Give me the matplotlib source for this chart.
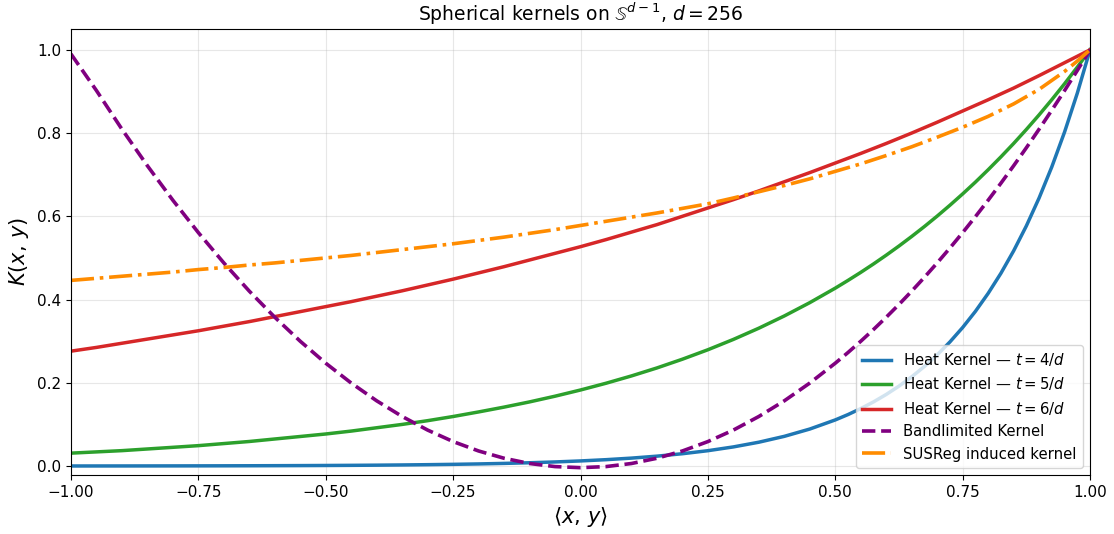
import numpy as np
import matplotlib
matplotlib.use("Agg")
import matplotlib.pyplot as plt

# <x, y> sample points: step 0.05 up to 0.45, then 0.025 where the curves bend hard
x = np.round(np.concatenate([np.arange(-1.0, 0.49, 0.05), np.arange(0.5, 1.0001, 0.025)]), 3)

heat_t4 = [0.00015, 0.00019, 0.00023, 0.00029, 0.00036, 0.00045, 0.00056, 0.00070, 0.00088, 0.00109,
           0.00136, 0.00170, 0.00211, 0.00263, 0.00328, 0.00409, 0.00509, 0.00635, 0.00791, 0.00985,
           0.01228, 0.01530, 0.01906, 0.02375, 0.02960, 0.03688, 0.04596, 0.05727, 0.07136, 0.08892,
           0.1108, 0.1237, 0.1381, 0.1541, 0.1720, 0.1920, 0.2144, 0.2393, 0.2671, 0.2982,
           0.3329, 0.3716, 0.4148, 0.4630, 0.5169, 0.5769, 0.6440, 0.7189, 0.8025, 0.8958, 1.0]

heat_t5 = [0.031, 0.034, 0.037, 0.041, 0.045, 0.049, 0.054, 0.059, 0.065, 0.071,
           0.077, 0.084, 0.092, 0.100, 0.109, 0.119, 0.130, 0.1416, 0.1541, 0.1678,
           0.1827, 0.1989, 0.2165, 0.2357, 0.2567, 0.2794, 0.3042, 0.3312, 0.3606, 0.3926,
           0.4274, 0.4460, 0.4653, 0.4855, 0.5066, 0.5286, 0.5516, 0.5755, 0.6005, 0.6266,
           0.6538, 0.6821, 0.7118, 0.7427, 0.7749, 0.8086, 0.8437, 0.8803, 0.9185, 0.9584, 1.0]

heat_t6 = [0.276, 0.285, 0.295, 0.305, 0.315, 0.325, 0.336, 0.347, 0.359, 0.371,
           0.383, 0.395, 0.408, 0.421, 0.435, 0.449, 0.464, 0.479, 0.495, 0.511,
           0.527, 0.544, 0.562, 0.580, 0.600, 0.620, 0.640, 0.661, 0.683, 0.705,
           0.728, 0.7395, 0.751, 0.763, 0.775, 0.7875, 0.800, 0.813, 0.826, 0.8395,
           0.853, 0.8665, 0.880, 0.894, 0.908, 0.923, 0.938, 0.9535, 0.969, 0.9845, 1.0]

bandlimited = [0.99, 0.9021, 0.8093, 0.7214, 0.6386, 0.5608, 0.4880, 0.4202, 0.3575, 0.2998,
               0.2471, 0.1994, 0.1567, 0.1191, 0.0864, 0.0588, 0.0362, 0.0187, 0.0061, -0.0013,
               -0.0039, -0.0013, 0.0061, 0.0187, 0.0362, 0.0588, 0.0864, 0.1191, 0.1567, 0.1994,
               0.2471, 0.2728, 0.2998, 0.3280, 0.3575, 0.3882, 0.4202, 0.4535, 0.4880, 0.5238,
               0.5608, 0.5991, 0.6386, 0.6794, 0.7214, 0.7647, 0.8093, 0.8550, 0.9021, 0.9504, 1.0]

susreg = [0.446, 0.451, 0.456, 0.461, 0.466, 0.472, 0.477, 0.483, 0.488, 0.494,
          0.500, 0.506, 0.513, 0.520, 0.527, 0.534, 0.542, 0.550, 0.559, 0.568,
          0.578, 0.588, 0.598, 0.608, 0.619, 0.630, 0.644, 0.659, 0.674, 0.690,
          0.708, 0.717, 0.726, 0.736, 0.746, 0.7565, 0.767, 0.7785, 0.790, 0.802,
          0.814, 0.827, 0.840, 0.855, 0.870, 0.8875, 0.905, 0.9265, 0.948, 0.973, 1.0]

fig = plt.figure(figsize=(11.14, 5.34), dpi=100)
ax = fig.add_axes([0.0637, 0.1105, 0.9148, 0.8352])

ax.plot(x, heat_t4, '-', color='tab:blue', lw=2.5, label=r'Heat Kernel — $t=4/d$')
ax.plot(x, heat_t5, '-', color='tab:green', lw=2.5, label=r'Heat Kernel — $t=5/d$')
ax.plot(x, heat_t6, '-', color='tab:red', lw=2.5, label=r'Heat Kernel — $t=6/d$')
ax.plot(x, bandlimited, '--', color='purple', lw=2.6, label='Bandlimited Kernel')
ax.plot(x, susreg, '-.', color='darkorange', lw=2.6, label='SUSReg induced kernel')

ax.set_xlim(-1, 1)
ax.set_ylim(-0.0215, 1.05)
ax.set_xticks([-1.0, -0.75, -0.5, -0.25, 0.0, 0.25, 0.5, 0.75, 1.0])
ax.set_yticks([0.0, 0.2, 0.4, 0.6, 0.8, 1.0])
ax.grid(True, alpha=0.3)
ax.tick_params(labelsize=11)
ax.set_xlabel(r'$\langle x,\, y\rangle$', fontsize=15)
ax.set_ylabel(r'$K(x,\, y)$', fontsize=15)
ax.set_title(r'Spherical kernels on $\mathbb{S}^{d-1}$, $d=256$', fontsize=13.5)
ax.legend(loc='lower right', fontsize=10.7)

fig.savefig('out.png', dpi=100)
